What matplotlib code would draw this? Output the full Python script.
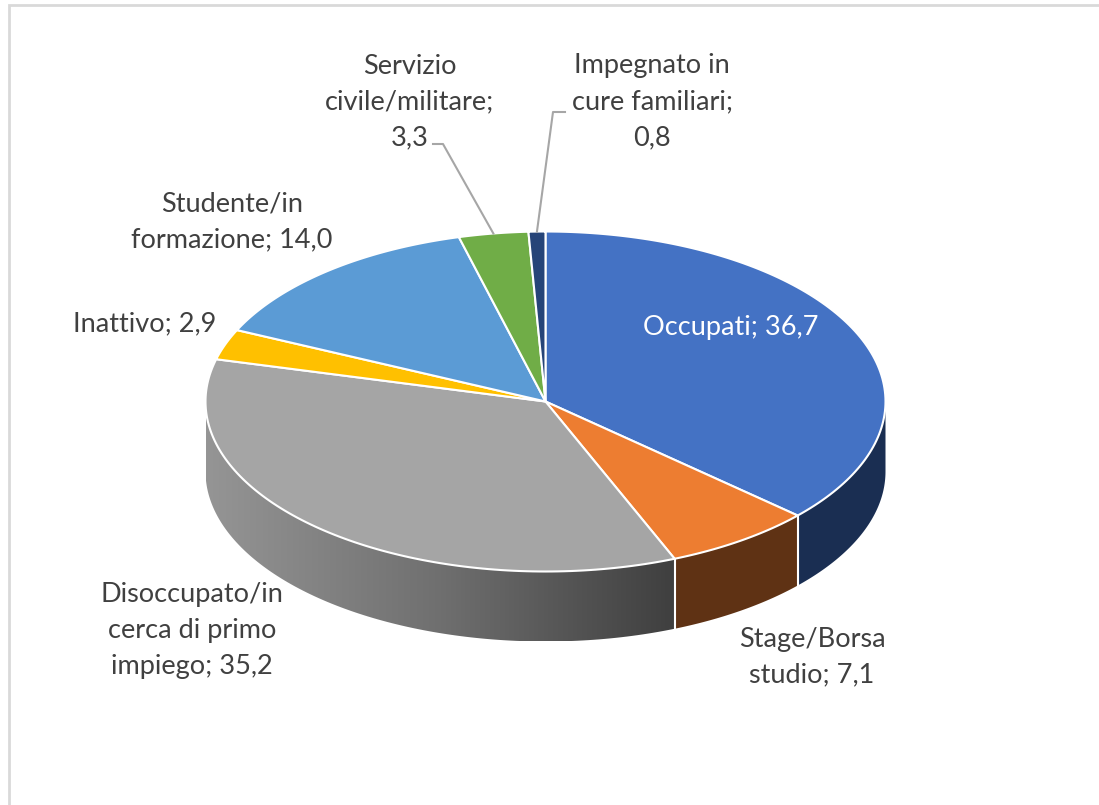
import numpy as np
from matplotlib import pyplot as plt
from matplotlib.colors import LinearSegmentedColormap
from matplotlib.patches import Polygon

etichette = ['Occupati; 36,7', 'Stage/Borsa\nstudio; 7,1', 'Disoccupato/in\ncerca di primo\nimpiego; 35,2',
             'Inattivo; 2,9', 'Studente/in\nformazione; 14,0', 'Servizio\ncivile/militare;\n3,3',
             'Impegnato in\ncure familiari;\n0,8']
valori = [36.7, 7.1, 35.2, 2.9, 14.0, 3.3, 0.8]
colori = ['#4472c4', '#ed7d31', '#a5a5a5', '#ffc000', '#5b9bd5', '#70ad47', '#264478']
coloriLato = ['#1a2e52', '#5f3214', None, '#997300', '#365d80', '#43682b', '#16294a']

# pozice popisku v pixelech
popiskyX = [731, 812, 192, 145, 232, 410, 652]
popiskyY = [327, 657, 630, 324, 222, 102, 102]

cx, cy, rx, ry, hloubka = 545.5, 401.5, 340, 170, 70


def bodyElipsy(a0, a1, n=120):
    t = np.radians(np.linspace(a0, a1, n))
    return cx + rx * np.sin(t), cy - ry * np.cos(t)


fig = plt.figure(figsize=(10.99, 8.05), dpi=100)
ax = fig.add_axes([0, 0, 1, 1])
ax.set_xlim(0, 1099)
ax.set_ylim(805, 0)
ax.axis('off')
plt.rcParams['font.family'] = ['Lato', 'DejaVu Sans']

# ramecek grafu
ax.plot([9, 9, 1099], [805, 5, 5], color='#d9d9d9', lw=2, solid_joinstyle='miter')

hrany = np.concatenate(([0], np.cumsum(valori))) * 3.6

# bocni stena
for i in range(len(valori)):
    a0, a1 = max(hrany[i], 90), min(hrany[i + 1], 270)
    if a1 <= a0:
        continue
    x, y = bodyElipsy(a0, a1)
    body = np.column_stack((np.r_[x, x[::-1]], np.r_[y, y[::-1] + hloubka]))
    if coloriLato[i] is None:
        okraj = Polygon(body, closed=True, facecolor='none', edgecolor='none')
        ax.add_patch(okraj)
        gradient = np.linspace(0, 1, 256).reshape(1, -1)
        obr = ax.imshow(gradient, extent=(x.min(), x.max(), y.max() + hloubka, y.min()),
                        cmap=LinearSegmentedColormap.from_list('seda', ['#959595', '#6f6f6f', '#3f3f3f']),
                        aspect='auto', zorder=2)
        obr.set_clip_path(okraj)
    else:
        ax.add_patch(Polygon(body, closed=True, facecolor=coloriLato[i], edgecolor='none', zorder=2))

# svisle hrany mezi stenami
for a in hrany[:-1]:
    if 90 < a < 270:
        x, y = bodyElipsy(a, a, 1)
        ax.plot([x[0], x[0]], [y[0], y[0] + hloubka], color='white', lw=1.5, zorder=3)

# horni plocha
for i in range(len(valori)):
    x, y = bodyElipsy(hrany[i], hrany[i + 1])
    body = np.column_stack((np.r_[cx, x], np.r_[cy, y]))
    ax.add_patch(Polygon(body, closed=True, facecolor=colori[i], edgecolor='white', lw=1.5,
                         joinstyle='round', zorder=4))

# vodici cary
stred = (hrany[5] + hrany[6]) / 2
sx, sy = bodyElipsy(stred, stred, 1)
ax.plot([433, 443, sx[0]], [144, 144, sy[0]], color='#a6a6a6', lw=1.5, zorder=5)
stred = (hrany[6] + hrany[7]) / 2
sx, sy = bodyElipsy(stred, stred, 1)
ax.plot([565, 553, sx[0]], [112, 112, sy[0]], color='#a6a6a6', lw=1.5, zorder=5)

for i in range(len(valori)):
    ax.text(popiskyX[i], popiskyY[i], etichette[i], ha='center', va='center', fontsize=19.5,
            linespacing=1.55, color='white' if i == 0 else '#404040', zorder=6)

plt.savefig('out.png', dpi=100)
